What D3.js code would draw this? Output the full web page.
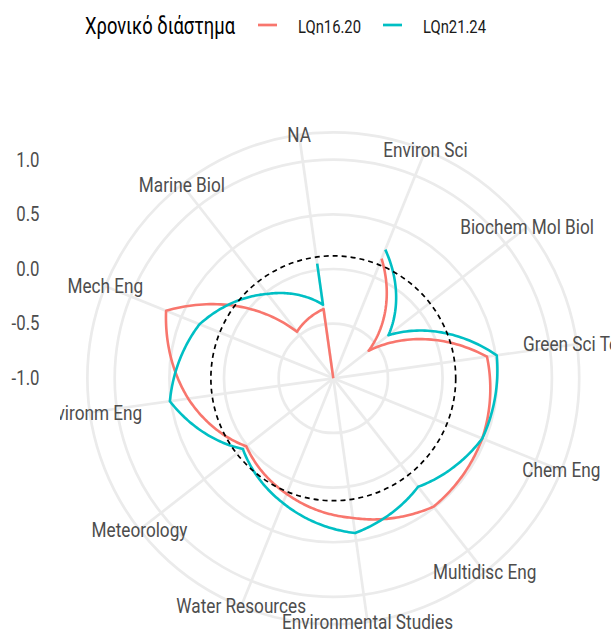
<!DOCTYPE html>
<html>
<head>
<meta charset="utf-8">
<script src="https://cdn.jsdelivr.net/npm/d3@7"></script>
<style>
body { margin: 0; background: #fff; }
text { font-family: Roboto, "Noto Sans", sans-serif; }
</style>
</head>
<body>
<div id="chart"></div>
<script>
// categories around the circle, NA comes last
var categories = ["Environ Sci", "Biochem Mol Biol", "Green Sci Tech", "Chem Eng",
    "Multidisc Eng", "Environmental Studies", "Water Resources", "Meteorology",
    "Environm Eng", "Mech Eng", "Marine Biol", "NA"];
// the NA category holds two rows for each period
var pathIndex = [0, 1, 2, 3, 4, 5, 6, 7, 8, 9, 10, 11, 11];
var lqn1620 = [0.18, -0.59, 0.42, 0.47, 0.49, 0.29, 0.14, 0.01, 0.34, 0.65, -0.46, -0.36, -1.0];
var lqn2124 = [0.27, -0.36, 0.51, 0.47, 0.26, 0.43, 0.23, 0.05, 0.51, 0.32, -0.02, -0.32, 0.06];
var seriesNames = ["LQn16.20", "LQn21.24"];
var seriesColors = ["#F8766D", "#00BFC4"];
var rTicks = [-1, -0.5, 0, 0.5, 1];
var rTickLabels = ["-1.0", "-0.5", "0.0", "0.5", "1.0"];
var refValue = 0.12;
var legendTitle = "Χρονικό διάστημα";

var width = 611, height = 633;
var cx = 333.3, cy = 378.3, R = 218.6;
var squeeze = 0.86; // condensed look of the original font

function create_radar(divname) {
    var svg = d3.select(divname)
        .append("svg")
        .attr("width", width)
        .attr("height", height);

    var rScale = d3.scaleLinear().domain([-1, 1]).range([0, R]);
    var start = 7 * Math.PI / 180;
    var thetaScale = d3.scaleLinear()
        .domain([-0.5, categories.length - 0.5])
        .range([start, start + 2 * Math.PI]);
    var outer = R * 0.45 / 0.4;

    svg.append("clipPath").attr("id", "panelclip")
        .append("rect").attr("x", 60).attr("y", 0).attr("width", width - 60).attr("height", height);

    var g = svg.append("g").attr("clip-path", "url(#panelclip)")
        .append("g").attr("transform", "translate(" + cx + "," + cy + ")");

    // grid
    var grid = g.append("g").attr("fill", "none").attr("stroke", "#EBEBEB").attr("stroke-width", 2.7);
    grid.selectAll("circle.r")
        .data(rTicks.filter(function (d) { return rScale(d) > 0; }).map(rScale).concat([outer]))
        .enter().append("circle")
        .attr("r", function (d) { return d; });
    grid.selectAll("line")
        .data(categories)
        .enter().append("line")
        .attr("x1", 0).attr("y1", 0)
        .attr("x2", function (d, i) { return outer * Math.sin(thetaScale(i)); })
        .attr("y2", function (d, i) { return -outer * Math.cos(thetaScale(i)); });

    // lines in polar space: r changes linearly with the angle
    function munch(vals) {
        var pts = [];
        for (var i = 0; i < vals.length - 1; i++) {
            var a0 = thetaScale(pathIndex[i]), a1 = thetaScale(pathIndex[i + 1]);
            for (var s = 0; s <= 40; s++) {
                var t = s / 40;
                pts.push([a0 + (a1 - a0) * t, rScale(vals[i] + (vals[i + 1] - vals[i]) * t)]);
            }
        }
        return pts;
    }
    var line = d3.lineRadial()
        .angle(function (d) { return d[0]; })
        .radius(function (d) { return d[1]; });

    [lqn1620, lqn2124].forEach(function (vals, k) {
        g.append("path")
            .attr("d", line(munch(vals)))
            .attr("fill", "none")
            .attr("stroke", seriesColors[k])
            .attr("stroke-width", 2.6)
            .attr("stroke-linejoin", "round");
    });

    g.append("circle")
        .attr("r", rScale(refValue))
        .attr("fill", "none")
        .attr("stroke", "#000")
        .attr("stroke-width", 1.7)
        .attr("stroke-dasharray", "5,4");

    // theta labels
    g.selectAll("g.lab")
        .data(categories)
        .enter().append("g")
        .attr("transform", function (d, i) {
            return "translate(" + (outer * Math.sin(thetaScale(i)) + (i == 2 ? 3 : 0)) + "," + (-outer * Math.cos(thetaScale(i))) + ") scale(" + squeeze + ",1)";
        })
        .append("text")
        .attr("text-anchor", "middle")
        .attr("dy", "0.35em")
        .attr("font-size", 20)
        .attr("fill", "#4D4D4D")
        .text(function (d) { return d; });

    // r axis labels on the left
    svg.selectAll("g.ytick")
        .data(rTicks)
        .enter().append("g")
        .attr("transform", function (d) { return "translate(39.5," + (cy - rScale(d)) + ") scale(" + squeeze + ",1)"; })
        .append("text")
        .attr("text-anchor", "end")
        .attr("dy", "0.35em")
        .attr("font-size", 19.5)
        .attr("fill", "#4D4D4D")
        .text(function (d, i) { return rTickLabels[i]; });

    // legend
    var leg = svg.append("g");
    leg.append("text")
        .attr("x", 85).attr("y", 34)
        .attr("font-size", 24)
        .attr("textLength", 150).attr("lengthAdjust", "spacingAndGlyphs")
        .attr("fill", "#000").text(legendTitle);
    var keyX = [258, 383];
    seriesNames.forEach(function (name, k) {
        leg.append("line")
            .attr("x1", keyX[k]).attr("x2", keyX[k] + 19)
            .attr("y1", 25).attr("y2", 25)
            .attr("stroke", seriesColors[k]).attr("stroke-width", 2.7);
        leg.append("text")
            .attr("x", keyX[k] + 40).attr("y", 32.5)
            .attr("font-size", 19)
            .attr("textLength", 63).attr("lengthAdjust", "spacingAndGlyphs")
            .attr("fill", "#1A1A1A").text(name);
    });

    return svg.node();
}

create_radar("#chart");
</script>
</body>
</html>
